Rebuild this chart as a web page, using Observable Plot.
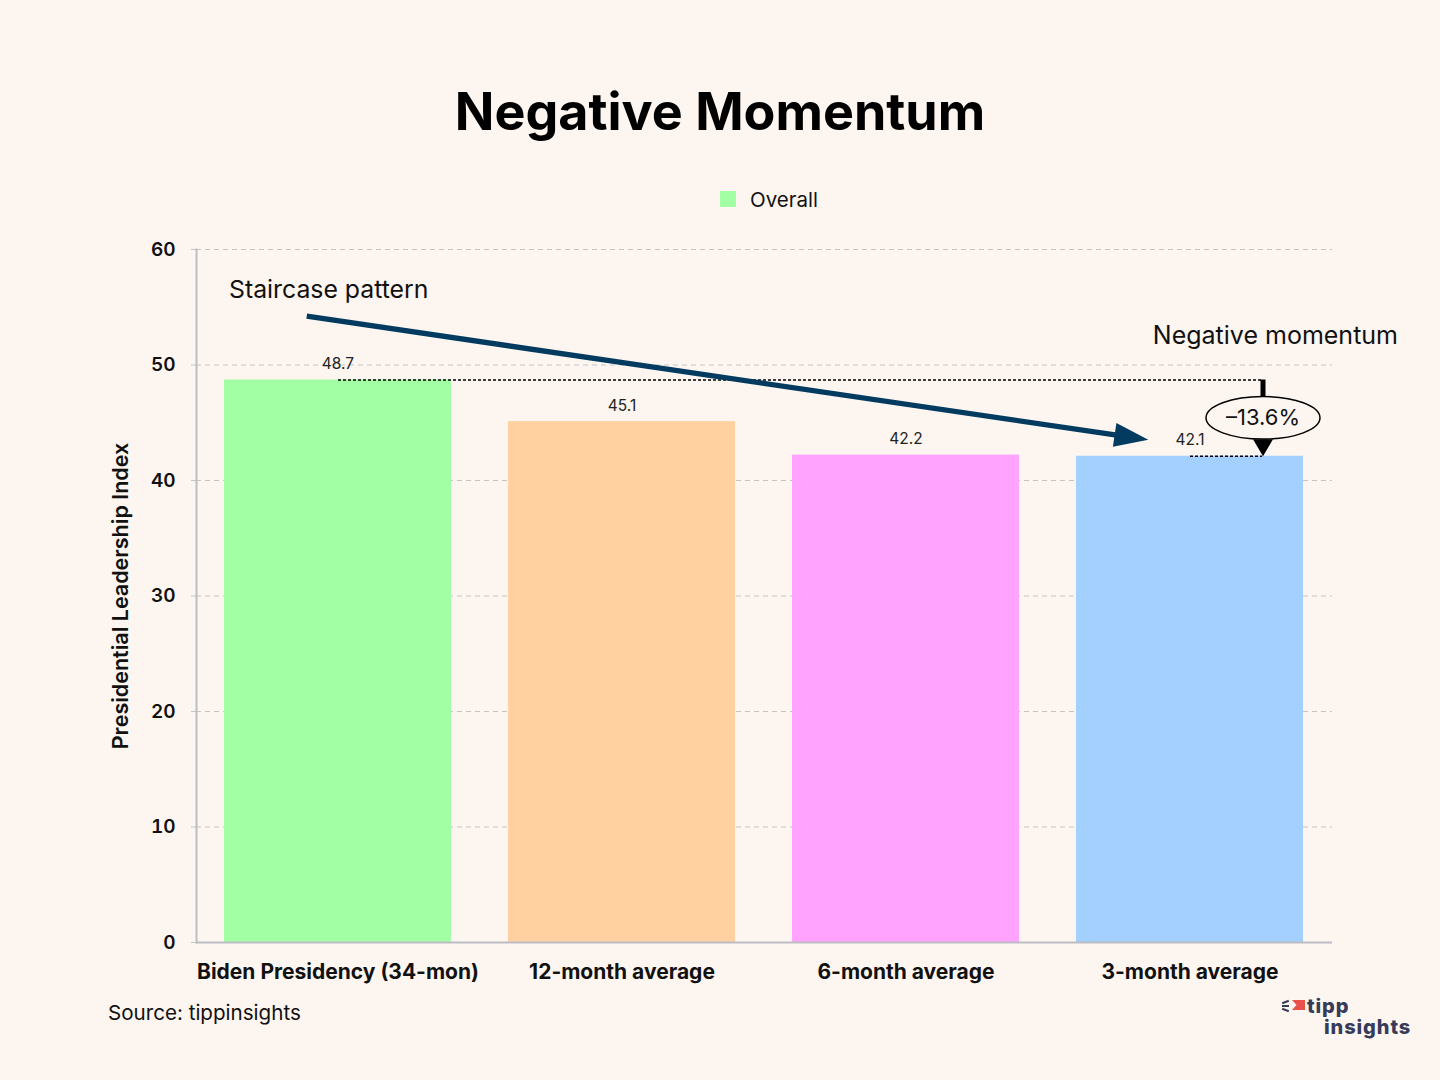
<!DOCTYPE html>
<html>
<head>
<meta charset="utf-8">
<script src="https://cdn.jsdelivr.net/npm/d3@7"></script>
<script src="https://cdn.jsdelivr.net/npm/@observablehq/plot@0.6"></script>
<style>
  html, body { margin: 0; padding: 0; background: #fdf6f0; }
  body { width: 1440px; height: 1080px; position: relative; overflow: hidden; font-family: Inter, "Noto Sans", sans-serif; color: #000; }
  #title { position: absolute; left: 0; top: 82px; width: 1440px; text-align: center; font-size: 52px; line-height: 60px; font-weight: 700; }
  #legend { position: absolute; left: 720px; top: 186px; height: 26px; display: flex; align-items: center; font-size: 20.5px; color: #111; }
  #legend .sw { width: 16px; height: 16px; margin-right: 14px; }
  #chart { position: absolute; left: 0; top: 230px; }
  #source { position: absolute; left: 108px; top: 999px; font-size: 20.6px; line-height: 28px; color: #111; }
  #logo { position: absolute; left: 1280px; top: 994px; width: 150px; height: 50px; color: #363b5a; font-weight: 800; font-size: 20px; }
  #logo .txt { position: absolute; left: 44px; top: 2px; line-height: 21px; text-indent: -17px; white-space: nowrap; letter-spacing: 0.9px; }
  #logo .flag { position: absolute; left: 12px; top: 6px; width: 13px; height: 10px; background: #e8524a; clip-path: polygon(0 0, 100% 0, 100% 100%, 0 100%, 35% 50%); }
  #logo .ln { position: absolute; left: 2px; width: 7px; height: 2px; background: #363b5a; }
  svg text { font-family: Inter, "Noto Sans", sans-serif; }
  g[aria-label="y-axis tick label"] text { font-size: 19px; font-weight: 600; fill: #111; }
  g[aria-label="y-axis label"] text { font-size: 21.5px; font-weight: 600; fill: #111; }
  g[aria-label="x-axis tick label"] text { font-size: 21px; font-weight: 700; fill: #111; }
</style>
</head>
<body>
<div id="title">Negative Momentum</div>
<div id="legend"><div class="sw" id="legendSwatch"></div><span id="legendText"></span></div>
<div id="chart"></div>
<div id="source">Source: tippinsights</div>
<div id="logo">
  <div class="ln" style="top:7px;transform:rotate(-20deg)"></div>
  <div class="ln" style="top:11px"></div>
  <div class="ln" style="top:15px;transform:rotate(20deg)"></div>
  <div class="flag"></div>
  <div class="txt">tipp<br>insights</div>
</div>
<script>
// ---- data ----
const categories = ["Biden Presidency (34-mon)", "12-month average", "6-month average", "3-month average"];
const values = [48.7, 45.1, 42.2, 42.1];
const barColors = ["#a3ffa3", "#ffd0a0", "#ffa3ff", "#a3d0ff"];
const yTicks = [0, 10, 20, 30, 40, 50, 60];
const seriesName = "Overall";
const yLabel = "Presidential Leadership Index";
const staircaseText = "Staircase pattern";
const momentumText = "Negative momentum";

const bg = "#fdf6f0";
const navy = "#023a60";

const rows = categories.map((c, i) => ({category: c, value: values[i], color: barColors[i]}));

document.getElementById("legendSwatch").style.background = barColors[0];
document.getElementById("legendText").textContent = seriesName;

const first = categories[0];
const last = categories[categories.length - 1];
const startVal = values[0];
const endVal = values[values.length - 1];
const pct = (endVal - startVal) / startVal * 100;
const pctText = "–" + Math.abs(pct).toFixed(1) + "%";

// annotation anchors (in data space, offsets in px)
const calloutDx = 73;
const ellipseY = 45.43;
const ellipseTopY = 47.27;

const ellipseSymbol = {
  draw(ctx) {
    const a = 57, b = 21.3, k = 0.5523;
    ctx.moveTo(a, 0);
    ctx.bezierCurveTo(a, b * k, a * k, b, 0, b);
    ctx.bezierCurveTo(-a * k, b, -a, b * k, -a, 0);
    ctx.bezierCurveTo(-a, -b * k, -a * k, -b, 0, -b);
    ctx.bezierCurveTo(a * k, -b, a, -b * k, a, 0);
    ctx.closePath();
  }
};
const downTriangle = {
  draw(ctx) {
    ctx.moveTo(0, 0);
    ctx.lineTo(-10, -17);
    ctx.lineTo(10, -17);
    ctx.closePath();
  }
};
const headSymbol = {
  draw(ctx) {
    ctx.moveTo(0, 0);
    ctx.lineTo(-12, 34);
    ctx.lineTo(12, 34);
    ctx.closePath();
  }
};

const chart = Plot.plot({
  width: 1440,
  height: 770,
  marginTop: 19,
  marginBottom: 58,
  marginLeft: 196,
  marginRight: 108,
  style: {background: "transparent", fontFamily: "Inter, 'Noto Sans', sans-serif", overflow: "visible"},
  x: {domain: categories, paddingInner: 0.2, paddingOuter: 0.1, label: null},
  y: {domain: [0, 60], label: null},
  color: {type: "identity"},
  marks: [
    Plot.gridY(yTicks, {stroke: "#c4c4c4", strokeOpacity: 1, strokeDasharray: "5,4", strokeWidth: 1}),
    Plot.axisY({ticks: yTicks, tickSize: 9, tickPadding: 12, stroke: "#c4c4c4", strokeOpacity: 1, strokeDasharray: "5,4", label: yLabel, labelAnchor: "center", labelArrow: "none", labelOffset: 84}),
    Plot.axisX({tickSize: 0, tickPadding: 22, label: null}),
    Plot.barY(rows, {x: "category", y: "value", fill: "color"}),
    Plot.ruleY([0], {stroke: "#bcbcc4", strokeWidth: 2}),
    Plot.frame({anchor: "left", stroke: "#bcbcc4", strokeWidth: 2}),
    Plot.text(rows, {x: "category", y: "value", text: d => d.value.toFixed(1), dy: -11, lineAnchor: "bottom", fontSize: 15.5, fill: "#222"}),
    // dotted reference lines
    Plot.arrow([0], {x1: () => first, y1: () => startVal, x2: () => last, y2: () => startVal, insetEnd: -calloutDx, headLength: 0, stroke: "#000", strokeWidth: 1.6, strokeDasharray: "3,2", strokeLinecap: "butt"}),
    Plot.tickY([0], {x: () => last, y: () => endVal, insetLeft: 114, insetRight: 41, stroke: "#000", strokeWidth: 1.6, strokeDasharray: "3,2"}),
    // callout
    Plot.ruleX([last], {x: d => d, y1: startVal, y2: ellipseTopY, dx: calloutDx, stroke: "#000", strokeWidth: 5}),
    Plot.dot([0], {x: () => last, y: () => endVal, dx: calloutDx, symbol: downTriangle, fill: "#000", stroke: null}),
    Plot.dot([0], {x: () => last, y: () => ellipseY, dx: calloutDx, symbol: ellipseSymbol, fill: bg, stroke: "#000", strokeWidth: 1.5}),
    Plot.text([pctText], {x: () => last, y: () => ellipseY, dx: calloutDx, text: d => d, fontSize: 22, fill: "#111"}),
    // staircase arrow
    Plot.arrow([0], {x1: () => first, y1: () => 53.83, x2: () => last, y2: () => 42.99, insetStart: -31.6, insetEnd: 62, headLength: 0, stroke: navy, strokeWidth: 5.3, strokeLinecap: "butt"}),
    Plot.dot([0], {x: () => last, y: () => 43.52, dx: -41.7, symbol: headSymbol, rotate: 98.36, fill: navy, stroke: null}),
    // annotation texts
    Plot.text([staircaseText], {x: () => first, y: () => 55.84, dx: -109, text: d => d, textAnchor: "start", lineAnchor: "bottom", fontSize: 24.8, fill: "#111"}),
    Plot.text([momentumText], {x: () => last, y: () => 51.86, dx: 208, text: d => d, textAnchor: "end", lineAnchor: "bottom", fontSize: 25, fill: "#111"})
  ]
});
document.getElementById("chart").appendChild(chart);
</script>
</body>
</html>
